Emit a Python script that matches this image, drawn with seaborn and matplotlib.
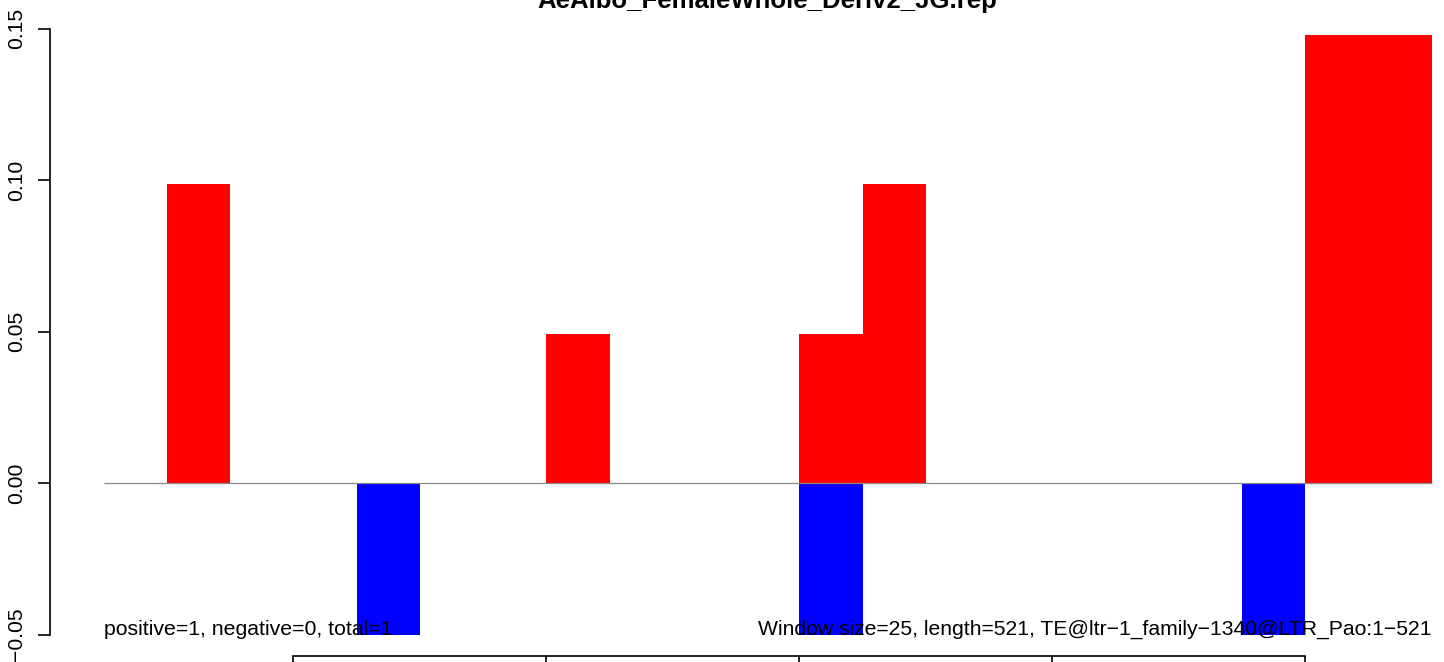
import numpy as np
import pandas as pd
import matplotlib
matplotlib.use('Agg')
import matplotlib.pyplot as plt
import seaborn as sns

# data: window start positions (bp), window size 25
bin_starts = list(range(25, 550, 25))
window = 25
# positive / negative signal per window (only non-zero windows listed)
pos_bins = [50, 200, 300, 325, 500, 525]
pos_vals = [0.0988, 0.0493, 0.0493, 0.0988, 0.148, 0.148]
neg_bins = [125, 300, 475]
neg_vals = [-0.05, -0.05, -0.05]
x_ticks = [100, 200, 300, 400, 500]
y_ticks = [-0.05, 0.00, 0.05, 0.10, 0.15]

title = 'AeAlbo_FemaleWhole_Deriv2_JG.rep'
left_note = 'positive=1, negative=0, total=1'
right_note = 'Window size=25, length=521, TE@ltr\u22121_family\u22121340@LTR_Pao:1\u2212521'

sns.set_style('white')
plt.rcParams['font.family'] = ['Liberation Sans', 'DejaVu Sans']
plt.rcParams['text.color'] = 'black'
plt.rcParams['xtick.color'] = 'black'
plt.rcParams['ytick.color'] = 'black'

# build one frame with every window so the bar width = window width
df = pd.DataFrame({'start': bin_starts})
df['center'] = df['start'] + window / 2
df['pos'] = df['start'].map(dict(zip(pos_bins, pos_vals))).fillna(0.0)
df['neg'] = df['start'].map(dict(zip(neg_bins, neg_vals))).fillna(0.0)

fig = plt.figure(figsize=(14.44, 6.62), dpi=100)
ax = fig.add_axes([50 / 1444, 1 - 656 / 662, 1 - 50 / 1444, (656 - 5) / 662])

sns.barplot(data=df, x='center', y='pos', native_scale=True, width=1.0,
            color='#ff0000', saturation=1, errorbar=None, linewidth=0, ax=ax)
sns.barplot(data=df, x='center', y='neg', native_scale=True, width=1.0,
            color='#0000ff', saturation=1, errorbar=None, linewidth=0, ax=ax)

# zero line across the data range
ax.hlines(0, bin_starts[0], bin_starts[-1] + window, color='#888888', lw=0.9, zorder=3)

ax.set_xlim(3.85, 554.8)
ax.set_ylim(-0.0571, 0.1579)

# R-like axes: no box, spines only between first and last tick
ax.spines['top'].set_visible(False)
ax.spines['right'].set_visible(False)
ax.spines['left'].set_bounds(y_ticks[0], y_ticks[-1])
ax.spines['bottom'].set_bounds(x_ticks[0], x_ticks[-1])
for s in ['left', 'bottom']:
    ax.spines[s].set_color('black')
    ax.spines[s].set_linewidth(1.2)

ax.set_yticks(y_ticks)
ax.set_yticklabels(['\u22120.05', '0.00', '0.05', '0.10', '0.15'],
                   rotation=90, va='center', fontsize=15.2, color='black')
ax.set_xticks(x_ticks)
ax.tick_params(axis='both', direction='out', length=9, width=1.2, color='black',
               left=True, bottom=True)
ax.tick_params(axis='y', pad=8)
ax.tick_params(axis='x', labelbottom=False)
ax.set_xlabel('')
ax.set_ylabel('')

# notes at the bottom of the plot
ax.text(bin_starts[0], -0.05, left_note, ha='left', va='baseline', fontsize=15.3, zorder=4)
ax.text(bin_starts[-1] + window, -0.05, right_note, ha='right', va='baseline', fontsize=15.25, zorder=4)

fig.text(767 / 1444, 1 - 8 / 662, title, ha='center', va='baseline',
         fontsize=18.5, fontweight='bold')

fig.savefig('out.png', dpi=100)
